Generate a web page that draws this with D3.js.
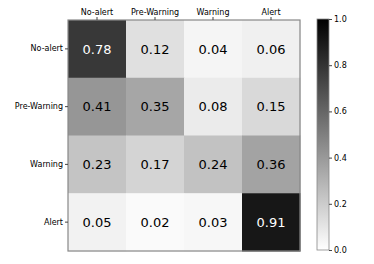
<!DOCTYPE html>
<html><head><meta charset="utf-8">
<script src="https://cdn.jsdelivr.net/npm/d3@7"></script>
<style>body{margin:0;background:#fff}svg{display:block}text{font-family:"DejaVu Sans",sans-serif}</style>
</head><body><svg id="c" width="374" height="264"></svg>
<script>
const categories = ["No-alert", "Pre-Warning", "Warning", "Alert"];
const matrix = [
  [0.78, 0.12, 0.04, 0.06],
  [0.41, 0.35, 0.08, 0.15],
  [0.23, 0.17, 0.24, 0.36],
  [0.05, 0.02, 0.03, 0.91]
];
const cbTicks = [0.0, 0.2, 0.4, 0.6, 0.8, 1.0];

const svg = d3.select("#c");
const L = 68, T = 20, W = 232, H = 231;
const x = d3.scaleBand().domain(categories).range([L, L + W]);
const y = d3.scaleBand().domain(categories).range([T, T + H]);
const color = d3.scaleLinear().domain([0, 1]).range(["#ffffff", "#000000"]);

const cells = [];
matrix.forEach((row, i) => row.forEach((v, j) => cells.push({r: categories[i], c: categories[j], v})));

svg.selectAll("rect.cell").data(cells).enter().append("rect")
  .attr("x", d => x(d.c)).attr("y", d => y(d.r))
  .attr("width", x.bandwidth() + 0.5).attr("height", y.bandwidth() + 0.5)
  .attr("fill", d => color(d.v));

svg.selectAll("text.val").data(cells).enter().append("text")
  .attr("x", d => x(d.c) + x.bandwidth() / 2)
  .attr("y", d => y(d.r) + y.bandwidth() / 2)
  .attr("text-anchor", "middle").attr("dy", "0.36em")
  .attr("font-size", 13)
  .attr("fill", d => d.v > 0.5 ? "#fff" : "#000")
  .text(d => d.v.toFixed(2));

svg.append("rect").attr("x", L).attr("y", T).attr("width", W).attr("height", H)
  .attr("fill", "none").attr("stroke", "#888").attr("stroke-width", 1.2);

const topAx = svg.append("g").attr("transform", `translate(0,${T})`)
  .call(d3.axisTop(x).tickSize(3).tickPadding(2));
topAx.select(".domain").remove();
topAx.selectAll("text").attr("font-size", 8).attr("font-family", "DejaVu Sans").attr("fill", "#000");
topAx.selectAll("line").attr("stroke", "#444");

const leftAx = svg.append("g").attr("transform", `translate(${L},0)`)
  .call(d3.axisLeft(y).tickSize(3).tickPadding(2));
leftAx.select(".domain").remove();
leftAx.selectAll("text").attr("font-size", 8).attr("font-family", "DejaVu Sans").attr("fill", "#000");
leftAx.selectAll("line").attr("stroke", "#444");

// colorbar
const CX = 317, CW = 12, CT = 19, CB = 250;
const defs = svg.append("defs");
const grad = defs.append("linearGradient").attr("id", "g").attr("x1", 0).attr("y1", 1).attr("x2", 0).attr("y2", 0);
[0, 1].forEach(t => grad.append("stop").attr("offset", t).attr("stop-color", color(t)));
svg.append("rect").attr("x", CX).attr("y", CT).attr("width", CW).attr("height", CB - CT)
  .attr("fill", "url(#g)").attr("stroke", "#888").attr("stroke-width", 0.8);
const cy = d3.scaleLinear().domain([0, 1]).range([CB, CT]);
const cax = svg.append("g").attr("transform", `translate(${CX + CW},0)`)
  .call(d3.axisRight(cy).tickValues(cbTicks).tickFormat(d3.format(".1f")).tickSize(3).tickPadding(2));
cax.select(".domain").remove();
cax.selectAll("text").attr("font-size", 8).attr("font-family", "DejaVu Sans").attr("fill", "#000");
cax.selectAll("line").attr("stroke", "#444");
</script></body></html>
